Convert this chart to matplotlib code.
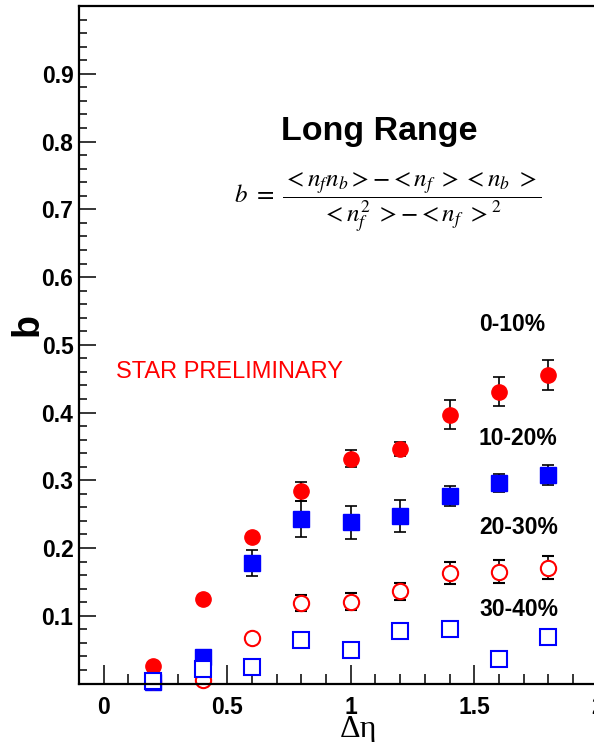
import matplotlib
matplotlib.use("Agg")
import matplotlib.pyplot as plt
from matplotlib.ticker import MultipleLocator

plt.rcParams['font.family'] = ['Liberation Sans', 'DejaVu Sans']
plt.rcParams['mathtext.fontset'] = 'stix'

# delta eta bins
deta = [0.2, 0.4, 0.6, 0.8, 1.0, 1.2, 1.4, 1.6, 1.8]

# b values and errors per centrality class
b_0_10 = [0.026, 0.125, 0.216, 0.284, 0.332, 0.346, 0.397, 0.431, 0.455]
e_0_10 = [0.004, 0.005, 0.006, 0.014, 0.012, 0.010, 0.021, 0.021, 0.022]
b_10_20 = [0.002, 0.039, 0.178, 0.243, 0.238, 0.247, 0.277, 0.296, 0.308]
e_10_20 = [0.004, 0.006, 0.019, 0.026, 0.024, 0.024, 0.015, 0.014, 0.015]
b_20_30 = [0.004, 0.005, 0.067, 0.119, 0.121, 0.136, 0.163, 0.165, 0.171]
e_20_30 = [0.004, 0.005, 0.006, 0.012, 0.013, 0.013, 0.016, 0.017, 0.017]
b_30_40 = [0.003, 0.022, 0.025, 0.064, 0.050, 0.078, 0.080, 0.036, 0.068]
e_30_40 = [0.003, 0.004, 0.004, 0.005, 0.005, 0.005, 0.005, 0.005, 0.005]

labels = ['0-10%', '10-20%', '20-30%', '30-40%']
label_y = [0.530, 0.362, 0.230, 0.109]

fig = plt.figure(figsize=(5.94, 7.42), dpi=100)
# right edge of the frame runs past the picture, as in the cropped original
ax = fig.add_axes([0.133, 0.0788, 0.915, 0.913])

eb = dict(ecolor='black', elinewidth=1.2, capsize=4, capthick=1.2,
          linestyle='none', markersize=11, clip_on=False)
ax.errorbar(deta, b_0_10, yerr=e_0_10, marker='o', color='red', mec='red', **eb)
ax.errorbar(deta, b_10_20, yerr=e_10_20, marker='s', color='blue', mec='blue', **eb)
ax.errorbar(deta, b_20_30, yerr=e_20_30, marker='o', color='red', mfc='white',
            mec='red', mew=1.5, **eb)
ax.errorbar(deta, b_30_40, yerr=e_30_40, marker='s', color='blue', mfc='white',
            mec='blue', mew=1.5, **eb)

ax.set_xlim(-0.1, 2.1)
ax.set_ylim(0, 1.0)
ax.xaxis.set_minor_locator(MultipleLocator(0.1))
ax.yaxis.set_minor_locator(MultipleLocator(0.02))
ax.set_yticks([0.1, 0.2, 0.3, 0.4, 0.5, 0.6, 0.7, 0.8, 0.9])
ax.set_yticklabels(['0.1', '0.2', '0.3', '0.4', '0.5', '0.6', '0.7', '0.8', '0.9'])
ax.set_xticks([0, 0.5, 1, 1.5, 2])
ax.set_xticklabels(['0', '0.5', '1', '1.5', '2'])

ax.tick_params(axis='x', which='major', direction='in', length=14, width=1.1,
               pad=9, labelsize=16.5)
ax.tick_params(axis='x', which='minor', direction='in', length=7, width=1.1)
ax.tick_params(axis='y', which='major', direction='in', length=12, width=1.1,
               pad=4, labelsize=16.5)
ax.tick_params(axis='y', which='minor', direction='in', length=6, width=1.1)
for lab in ax.get_xticklabels() + ax.get_yticklabels():
    lab.set_fontweight('bold')
for sp in ax.spines.values():
    sp.set_linewidth(1.6)

for lab, yy in zip(labels, label_y):
    ax.text(1.519, yy, lab, fontsize=16.5, fontweight='bold', va='center', ha='left')

ax.text(0.05, 0.46, 'STAR PRELIMINARY', color='red', fontsize=17, va='center', ha='left')
ax.text(1.116, 0.802, 'Long Range', fontsize=24.5, fontweight='bold', ha='center',
        va='baseline')
ax.text(1.15, 0.71,
        r'$b\ =\ \dfrac{<n_f n_b> - <n_f\ ><n_b\ >}{<n_f^2\ > - <n_f\ >^2}$',
        fontsize=18, ha='center', va='center')

fig.text(0.047, 0.563, 'b', fontsize=27, fontweight='bold', rotation=90,
         ha='center', va='center')
fig.text(358 / 594, 1 - 730 / 742, 'Δη', fontsize=23, family='Liberation Serif',
         ha='center', va='center')

fig.savefig('out.png', dpi=100)
